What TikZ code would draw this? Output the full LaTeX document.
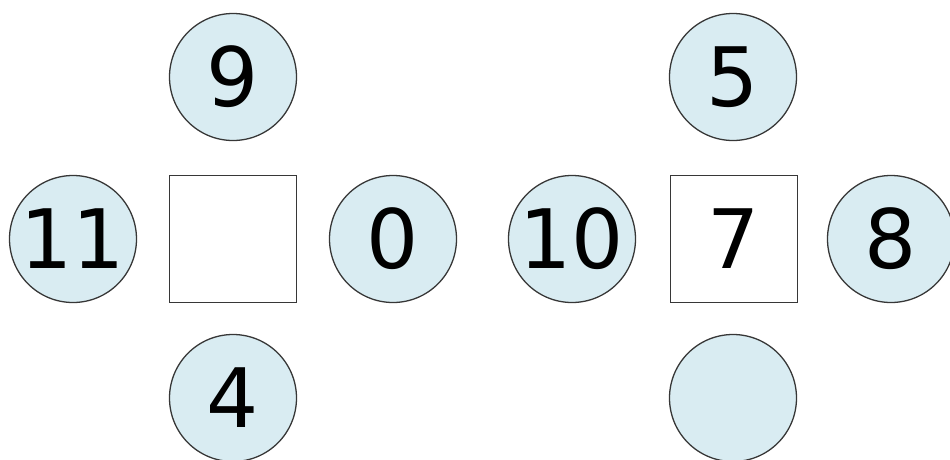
\documentclass[tikz,border=0pt]{standalone}
\usepackage{fontspec}
\setmainfont{DejaVu Sans}
\definecolor{cfill}{RGB}{217,236,242}
\definecolor{cline}{RGB}{55,55,55}
\begin{document}
\begin{tikzpicture}[x=1pt,y=-1pt,
  ball/.style={circle,draw=cline,line width=1.3pt,fill=cfill,minimum size=127pt,inner sep=0pt,font=\fontsize{82}{82}\selectfont},
  cell/.style={rectangle,draw=cline,line width=1.3pt,fill=white,minimum size=127pt,inner sep=0pt,font=\fontsize{82}{82}\selectfont}]
\useasboundingbox (0,0) rectangle (950,459);
% left group
\node[ball] (n9) at (233,77) {9};
\node[ball] (n11) at (73,239) {11};
\node[cell] (sqL) at (233,239) {};
\node[ball] (n0) at (393,239) {0};
\node[ball] (n4) at (233,398) {4};
% right group
\node[ball] (n5) at (733,77) {5};
\node[ball] (n10) at (572,239) {10};
\node[cell] (sqR) at (734,239) {7};
\node[ball] (n8) at (891,239) {8};
\node[ball] (nb) at (733,398) {};
\end{tikzpicture}
\end{document}
